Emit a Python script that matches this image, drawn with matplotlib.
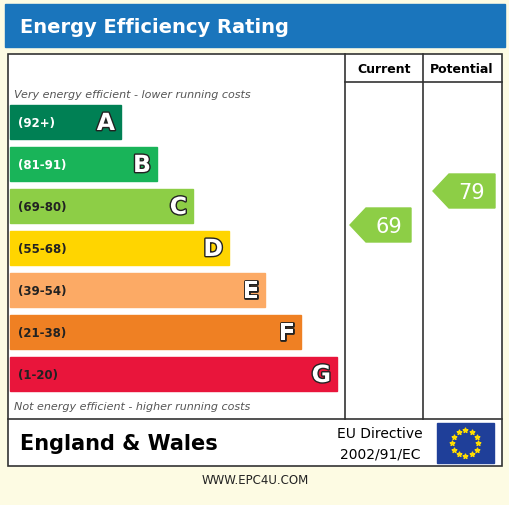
import matplotlib
matplotlib.use("Agg")
import matplotlib.pyplot as plt
import matplotlib.patheffects as pe
from matplotlib.patches import Rectangle, Polygon
import numpy as np

bands = ["A", "B", "C", "D", "E", "F", "G"]
ranges = ["(92+)", "(81-91)", "(69-80)", "(55-68)", "(39-54)", "(21-38)", "(1-20)"]
colors = ["#008054", "#19b459", "#8dce46", "#ffd500", "#fcaa65", "#ef8023", "#e9153b"]
bar_ends = [121, 157, 193, 229, 265, 301, 337]
current = 69
potential = 79

fig = plt.figure(figsize=(5.1, 5.06), dpi=100)
fig.patch.set_facecolor("#fdfbe3")
ax = fig.add_axes([0, 0, 1, 1])
ax.set_xlim(0, 510)
ax.set_ylim(506, 0)
ax.axis("off")

# title bar
ax.add_patch(Rectangle((5, 5), 500, 43, color="#1a75bc"))
ax.text(20, 27, "Energy Efficiency Rating", color="white", fontsize=14, fontweight="bold", va="center")

# main frame
ax.add_patch(Rectangle((8, 55), 494, 412, facecolor="white", edgecolor="#333333", lw=1.2))
ax.plot([345, 345], [55, 420], color="#333333", lw=1.2)
ax.plot([423, 423], [55, 420], color="#333333", lw=1.2)
ax.plot([345, 502], [83, 83], color="#333333", lw=1.2)
ax.plot([8, 502], [420, 420], color="#333333", lw=1.2)
ax.text(384, 69, "Current", ha="center", va="center", fontsize=9, fontweight="bold")
ax.text(462, 69, "Potential", ha="center", va="center", fontsize=9, fontweight="bold")

ax.text(14, 95, "Very energy efficient - lower running costs", fontsize=8, style="italic", color="#555555", va="center")
ax.text(14, 407, "Not energy efficient - higher running costs", fontsize=8, style="italic", color="#555555", va="center")

outline = [pe.withStroke(linewidth=2, foreground="#222222")]
for i, (b, r, c, e) in enumerate(zip(bands, ranges, colors, bar_ends)):
    y0 = 106 + i * 42
    ax.add_patch(Rectangle((10, y0), e - 10, 34, color=c))
    tc = "white" if i in (0, 1) else "#222222"
    ax.text(18, y0 + 17, r, fontsize=8.5, fontweight="bold", color=tc, va="center")
    ax.text(e - 6, y0 + 18, b, fontsize=17, fontweight="bold", color="white", ha="right", va="center",
            path_effects=outline)

def band_color(v):
    lims = [92, 81, 69, 55, 39, 21, 1]
    for lim, c in zip(lims, colors):
        if v >= lim:
            return c
    return colors[-1]

def arrow(x0, x1, yc, v):
    pts = [(x0, yc), (x0 + 16, yc - 17), (x1, yc - 17), (x1, yc + 17), (x0 + 16, yc + 17)]
    ax.add_patch(Polygon(pts, color=band_color(v)))
    ax.text((x0 + x1) / 2 + 8, yc + 1, str(v), fontsize=15, color="white", ha="center", va="center")

arrow(350, 411, 226, current)
arrow(433, 495, 192, potential)

ax.text(20, 444, "England & Wales", fontsize=15, fontweight="bold", va="center")
ax.text(380, 434, "EU Directive", fontsize=10, ha="center", va="center")
ax.text(380, 455, "2002/91/EC", fontsize=10, ha="center", va="center")
ax.add_patch(Rectangle((437, 424), 57, 40, color="#1f3f99"))
ang = np.linspace(0, 2 * np.pi, 12, endpoint=False)
ax.scatter(465.5 + 13 * np.cos(ang), 444 + 13 * np.sin(ang), marker="*", s=12, color="#ffdd00", zorder=5)

ax.text(255, 481, "WWW.EPC4U.COM", fontsize=8.5, ha="center", va="center", color="#222222")

fig.savefig("out.png", dpi=100, facecolor=fig.get_facecolor())
